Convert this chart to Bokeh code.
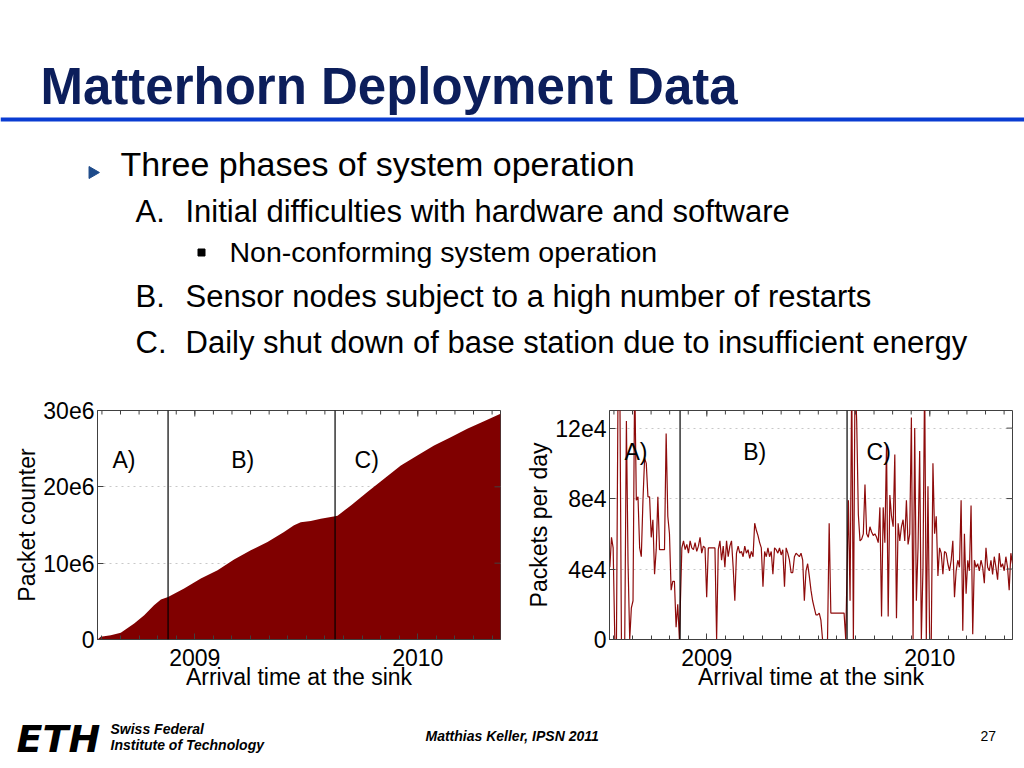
import numpy as np
from bokeh.plotting import figure
from bokeh.models import Range1d, FixedTicker, Span
from bokeh.layouts import column, row
from bokeh.core.properties import value
from bokeh.embed import file_html
from bokeh.resources import INLINE

# ---------------- data ----------------
x_start, x_end = 2008.5635, 2010.371
year_ticks = [2009, 2010]
month_ticks = [2008 + m / 12 for m in range(7, 30)]
phase_bounds = [2008.880, 2009.629]
phase_labels = ["A)", "B)", "C)"]
phase_label_x = [2008.682, 2009.215, 2009.771]

# cumulative packet counter (millions)
cum_years = [2008.5635, 2008.578, 2008.623, 2008.668, 2008.728, 2008.773, 2008.817,
             2008.848, 2008.880, 2008.952, 2009.027, 2009.102, 2009.176, 2009.251,
             2009.326, 2009.400, 2009.445, 2009.475, 2009.520, 2009.565, 2009.629,
             2009.640, 2009.700, 2009.774, 2009.849, 2009.924, 2009.998, 2010.073,
             2010.148, 2010.222, 2010.297, 2010.371]
cum_millions = [0.0, 0.35, 0.57, 0.87, 2.09, 3.18, 4.49, 5.23, 5.58, 6.67, 7.98, 9.07,
                10.47, 11.69, 12.78, 14.08, 14.96, 15.35, 15.52, 15.83, 16.13, 16.2,
                17.57, 19.32, 21.06, 22.8, 24.11, 25.42, 26.51, 27.6, 28.6, 29.56]
left_y_max = 30
left_y_ticks = [0, 10, 20, 30]
left_y_labels = ["0", "10e6", "20e6", "30e6"]

# packets per day (thousands), three phases
phase_a_span = (2008.565, 2008.877)
phase_b_span = (2008.888, 2009.623)
phase_c_span = (2009.635, 2010.371)
daily_a = [41, 58, 52, 0, 0, 150, 150, 0, 0, 0,
           124, 43, 0, 18, 22, 150, 79, 81, 52, 47,
           79, 103, 100, 81, 81, 58, 68, 37, 51, 81,
           51, 51, 51, 51, 117, 70, 60, 28, 33, 33,
           7, 20, 0]
daily_b = [52, 56, 51, 54, 49, 56, 52, 51, 55, 50,
           53, 58, 49, 53, 52, 24, 52, 52, 52, 52,
           52, 0, 51, 56, 45, 53, 41, 56, 47, 53,
           56, 41, 22, 49, 53, 49, 50, 47, 53, 49,
           51, 46, 50, 47, 66, 62, 59, 55,
           52, 30, 50, 47, 52, 47, 50, 37, 52, 51,
           49, 52, 48, 51, 30, 52, 49, 45, 38, 38,
           47, 49, 48, 47, 49, 45, 22, 39, 43, 36,
           28, 22, 18, 14, 14, 15, 11, 0, 0, 0,
           0, 66, 15, 15, 15, 15, 15, 15, 15, 15,
           15, 0]
daily_c = [79, 22, 150, 0, 150, 124, 71, 56, 57, 60,
           88, 60, 58, 64, 61, 59, 60, 58, 55, 75,
           13, 75, 55, 111, 13, 82, 70, 64, 105, 12,
           66, 56, 64, 68, 56, 79, 54, 60, 126, 0,
           120, 22, 52, 107, 0, 41, 150, 0, 87, 0,
           0, 100, 60,
           70, 36, 52, 49, 37, 50, 49, 43, 39, 45,
           56, 24, 39, 45, 41, 79, 5, 60, 26, 45,
           39, 76, 3, 45, 41, 43, 39, 45, 41, 32,
           52, 41, 39, 45, 37, 47, 41, 34, 49, 41,
           43, 39, 47, 41, 28, 49, 43]
right_y_max = 130
right_y_ticks = [0, 40, 80, 120]
right_y_labels = ["0", "4e4", "8e4", "12e4"]

# ---------------- styling ----------------
FONT = "Liberation Sans"
DARKRED = "#800000"
LINE_RED = "#8e0b0b"
AX = "#404040"


def style_chart(p, y_max, y_ticks, y_labels, xlabel, ylabel):
    xt = FixedTicker(ticks=year_ticks, minor_ticks=month_ticks)
    yt = FixedTicker(ticks=y_ticks)
    xa, ya = p.below[0], p.left[0]
    xa.ticker = xt
    ya.ticker = yt
    ya.major_label_overrides = {t: l for t, l in zip(y_ticks, y_labels)}
    xa.major_label_overrides = {t: str(t) for t in year_ticks}
    for ax in (xa, ya):
        ax.axis_line_color = AX
        ax.major_tick_line_color = AX
        ax.minor_tick_line_color = AX
        ax.major_tick_in = 6
        ax.major_tick_out = 0
        ax.minor_tick_in = 4
        ax.minor_tick_out = 0
        ax.major_label_text_font = FONT
        ax.major_label_text_font_size = "23px"
        ax.major_label_text_color = "black"
        ax.axis_label_text_font = FONT
        ax.axis_label_text_font_size = "23px"
        ax.axis_label_text_font_style = "normal"
        ax.axis_label_text_color = "black"
    ya.minor_tick_line_color = None
    ya.major_label_standoff = 3
    ya.axis_label_standoff = 0
    xa.major_label_standoff = 9
    xa.axis_label_standoff = -5
    xa.axis_label = xlabel
    ya.axis_label = ylabel
    p.xgrid.visible = False
    p.ygrid.grid_line_color = "#c8c8c8"
    p.ygrid.grid_line_dash = "dotted"
    p.outline_line_color = AX
    # inward ticks on the top and right edges of the box (clipped to the frame)
    p.scatter(x=month_ticks, y=[y_max] * len(month_ticks), marker="dash", angle=np.pi / 2,
              size=8, line_color=AX, line_width=1)
    p.scatter(x=year_ticks, y=[y_max] * len(year_ticks), marker="dash", angle=np.pi / 2,
              size=12, line_color=AX, line_width=1)
    p.scatter(x=[x_end] * len(y_ticks), y=y_ticks, marker="dash", size=12,
              line_color=AX, line_width=1)
    for b in phase_bounds:
        p.add_layout(Span(location=b, dimension="height", line_color="black", line_width=1.2))


# ---------------- header (slide text) ----------------
hdr = figure(width=1024, height=395, x_range=Range1d(0, 1024), y_range=Range1d(395, 0),
             x_axis_location=None, y_axis_location=None, toolbar_location=None,
             output_backend="svg", min_border=0)
hdr.grid.visible = False
hdr.outline_line_color = None
hdr.text(x=[40], y=[86], text=["Matterhorn Deployment Data"], text_font=value(FONT),
         text_font_style="bold", text_font_size="51px", text_color="#0c1e5b",
         text_baseline="alphabetic")
hdr.add_layout(Span(location=119, dimension="width", line_color="#0a3cd2", line_width=4))
hdr.scatter(x=[92], y=[172], marker="triangle", angle=-np.pi / 2, size=12,
            color="#1d4a8a")
hdr.text(x=[120], y=[163.5], text=["Three phases of system operation"], text_font=value(FONT),
         text_font_size="34px", text_color="black", text_baseline="alphabetic")
hdr.text(x=[135, 135, 135], y=[210.5, 295.5, 341.5], text=["A.", "B.", "C."],
         text_font=value(FONT), text_font_size="31px", text_color="black",
         text_baseline="alphabetic")
hdr.text(x=[185, 185, 185], y=[210.5, 295.5, 341.5],
         text=["Initial difficulties with hardware and software",
               "Sensor nodes subject to a high number of restarts",
               "Daily shut down of base station due to insufficient energy"],
         text_font=value(FONT), text_font_size="31px", text_color="black",
         text_baseline="alphabetic")
hdr.scatter(x=[201], y=[252], marker="square", size=7, color="black")
hdr.text(x=[229], y=[251.5], text=["Non-conforming system operation"], text_font=value(FONT),
         text_font_size="28.5px", text_color="black", text_baseline="alphabetic")

# ---------------- left chart ----------------
xr = Range1d(x_start, x_end)
p1 = figure(width=512, height=305, x_range=xr, y_range=Range1d(0, left_y_max),
            toolbar_location=None, output_backend="svg",
            min_border_left=97, min_border_right=12, min_border_top=15, min_border_bottom=61)
p1.varea(x=cum_years, y1=0, y2=cum_millions, color=DARKRED)
style_chart(p1, left_y_max, left_y_ticks, left_y_labels,
            "Arrival time at the sink", "Packet counter")
p1.text(x=phase_label_x, y=[23.45] * 3, text=phase_labels, text_font=value(FONT),
        text_font_size="23px", text_align="center", text_baseline="middle", text_color="black")

# ---------------- right chart ----------------
xs = np.concatenate([np.linspace(*phase_a_span, len(daily_a)),
                     np.linspace(*phase_b_span, len(daily_b)),
                     np.linspace(*phase_c_span, len(daily_c))])
ys = np.array(daily_a + daily_b + daily_c, dtype=float)
p2 = figure(width=512, height=305, x_range=xr, y_range=Range1d(0, right_y_max),
            toolbar_location=None, output_backend="svg",
            min_border_left=97, min_border_right=12, min_border_top=15, min_border_bottom=61)
p2.line(xs, ys, line_color=LINE_RED, line_width=1.2)
style_chart(p2, right_y_max, right_y_ticks, right_y_labels,
            "Arrival time at the sink", "Packets per day")
p2.text(x=phase_label_x, y=[106.2] * 3, text=phase_labels, text_font=value(FONT),
        text_font_size="23px", text_align="center", text_baseline="middle", text_color="black")

# ---------------- footer ----------------
ftr = figure(width=1024, height=66, x_range=Range1d(0, 1024), y_range=Range1d(766, 700),
             x_axis_location=None, y_axis_location=None, toolbar_location=None,
             output_backend="svg", min_border=0)
ftr.grid.visible = False
ftr.outline_line_color = None
ftr.text(x=[16], y=[738], text=["ETH"], text_font=value("DejaVu Sans"),
         text_font_style="bold italic", text_font_size="38px", text_color="black",
         text_baseline="alphabetic")
ftr.text(x=[110, 110], y=[728, 744], text=["Swiss Federal", "Institute of Technology"],
         text_font=value(FONT), text_font_style="bold italic", text_font_size="14px",
         text_color="black", text_baseline="alphabetic")
ftr.text(x=[425], y=[735.5], text=["Matthias Keller, IPSN 2011"], text_font=value(FONT),
         text_font_style="bold italic", text_font_size="14px", text_color="black",
         text_baseline="alphabetic")
ftr.text(x=[980], y=[735.5], text=["27"], text_font=value(FONT), text_font_size="14px",
         text_color="black", text_baseline="alphabetic")

layout = column(hdr, row(p1, p2), ftr)
open("out.html", "w").write(file_html(layout, INLINE))
